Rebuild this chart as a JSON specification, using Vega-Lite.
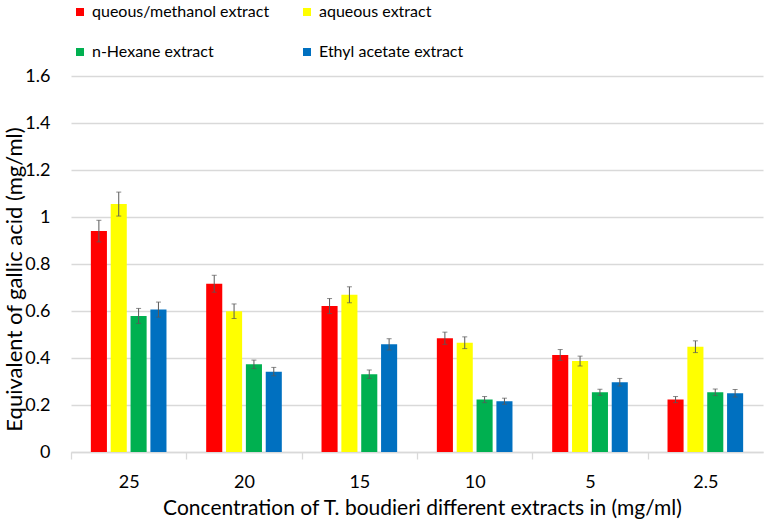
{
  "$schema": "https://vega.github.io/schema/vega-lite/v6.json",
  "width": 692,
  "height": 376,
  "autosize": {"type": "none"},
  "padding": {"left": 71, "top": 76, "right": 2, "bottom": 72},
  "background": "white",
  "config": {
    "font": "Lato",
    "view": {"stroke": null}
  },
  "data": {
    "values": [
      {"conc": "25", "extract": "queous/methanol extract", "value": 0.94, "err": 0.046},
      {"conc": "25", "extract": "aqueous extract", "value": 1.055, "err": 0.051},
      {"conc": "25", "extract": "n-Hexane extract", "value": 0.579, "err": 0.032},
      {"conc": "25", "extract": "Ethyl acetate extract", "value": 0.606, "err": 0.032},
      {"conc": "20", "extract": "queous/methanol extract", "value": 0.716, "err": 0.036},
      {"conc": "20", "extract": "aqueous extract", "value": 0.599, "err": 0.031},
      {"conc": "20", "extract": "n-Hexane extract", "value": 0.373, "err": 0.018},
      {"conc": "20", "extract": "Ethyl acetate extract", "value": 0.342, "err": 0.018},
      {"conc": "15", "extract": "queous/methanol extract", "value": 0.621, "err": 0.032},
      {"conc": "15", "extract": "aqueous extract", "value": 0.669, "err": 0.034},
      {"conc": "15", "extract": "n-Hexane extract", "value": 0.331, "err": 0.018},
      {"conc": "15", "extract": "Ethyl acetate extract", "value": 0.458, "err": 0.024},
      {"conc": "10", "extract": "queous/methanol extract", "value": 0.484, "err": 0.026},
      {"conc": "10", "extract": "aqueous extract", "value": 0.465, "err": 0.025},
      {"conc": "10", "extract": "n-Hexane extract", "value": 0.223, "err": 0.013},
      {"conc": "10", "extract": "Ethyl acetate extract", "value": 0.216, "err": 0.013},
      {"conc": "5", "extract": "queous/methanol extract", "value": 0.413, "err": 0.023},
      {"conc": "5", "extract": "aqueous extract", "value": 0.387, "err": 0.021},
      {"conc": "5", "extract": "n-Hexane extract", "value": 0.254, "err": 0.013},
      {"conc": "5", "extract": "Ethyl acetate extract", "value": 0.297, "err": 0.016},
      {"conc": "2.5", "extract": "queous/methanol extract", "value": 0.223, "err": 0.013},
      {"conc": "2.5", "extract": "aqueous extract", "value": 0.448, "err": 0.025},
      {"conc": "2.5", "extract": "n-Hexane extract", "value": 0.254, "err": 0.014},
      {"conc": "2.5", "extract": "Ethyl acetate extract", "value": 0.25, "err": 0.016}
    ]
  },
  "encoding": {
    "x": {
      "field": "conc",
      "type": "nominal",
      "sort": ["25", "20", "15", "10", "5", "2.5"],
      "scale": {"paddingInner": 0, "paddingOuter": 0},
      "axis": {
        "title": "Concentration of T. boudieri different extracts in (mg/ml)",
        "titleFont": "Lato",
        "titleFontSize": 21,
        "titleFontWeight": "normal",
        "titleColor": "#000000",
        "titlePadding": 6,
        "titleX": 351,
        "labelAngle": 0,
        "labelFontSize": 18,
        "labelColor": "#000000",
        "labelPadding": 14,
        "tickOffset": -57.67,
        "labelOffset": 57.67,
        "tickSize": 7,
        "tickColor": "#d9d9d9",
        "tickWidth": 1.3,
        "domainColor": "#d9d9d9",
        "domainWidth": 1.3,
        "grid": false
      }
    },
    "xOffset": {
      "field": "extract",
      "type": "nominal",
      "sort": ["queous/methanol extract", "aqueous extract", "n-Hexane extract", "Ethyl acetate extract"],
      "scale": {"paddingInner": 0.19, "paddingOuter": 1.015}
    }
  },
  "layer": [
    {
      "mark": {"type": "bar"},
      "encoding": {
        "y": {
          "field": "value",
          "type": "quantitative",
          "title": "Equivalent of gallic acid (mg/ml)",
          "scale": {"domain": [0, 1.6]},
          "axis": {
            "titleFont": "Lato",
            "titleFontSize": 22,
            "titleFontWeight": "normal",
            "titleColor": "#000000",
            "titleY": 203,
            "titleX": -45,
            "values": [0, 0.2, 0.4, 0.6, 0.8, 1, 1.2, 1.4, 1.6],
            "format": "~g",
            "labelFontSize": 18,
            "labelColor": "#000000",
            "labelPadding": 21,
            "ticks": false,
            "domain": false,
            "gridColor": "#d9d9d9",
            "gridWidth": 1.3
          }
        },
        "color": {
          "field": "extract",
          "type": "nominal",
          "scale": {
            "domain": ["queous/methanol extract", "n-Hexane extract", "aqueous extract", "Ethyl acetate extract"],
            "range": ["#ff0000", "#00b050", "#ffff00", "#0070c0"]
          },
          "legend": {
            "title": null,
            "orient": "none",
            "legendX": 1,
            "legendY": -72,
            "columns": 2,
            "columnPadding": 29,
            "rowPadding": 24,
            "symbolType": "square",
            "symbolSize": 64,
            "symbolStrokeWidth": 0,
            "labelFontSize": 16,
            "labelLimit": 400,
            "labelColor": "#000000",
            "labelOffset": 4
          }
        }
      }
    },
    {
      "mark": {"type": "errorbar", "color": "#595959", "ticks": {"size": 5}, "thickness": 1},
      "encoding": {
        "y": {"field": "value", "type": "quantitative", "title": "Equivalent of gallic acid (mg/ml)"},
        "yError": {"field": "err"}
      }
    }
  ]
}
